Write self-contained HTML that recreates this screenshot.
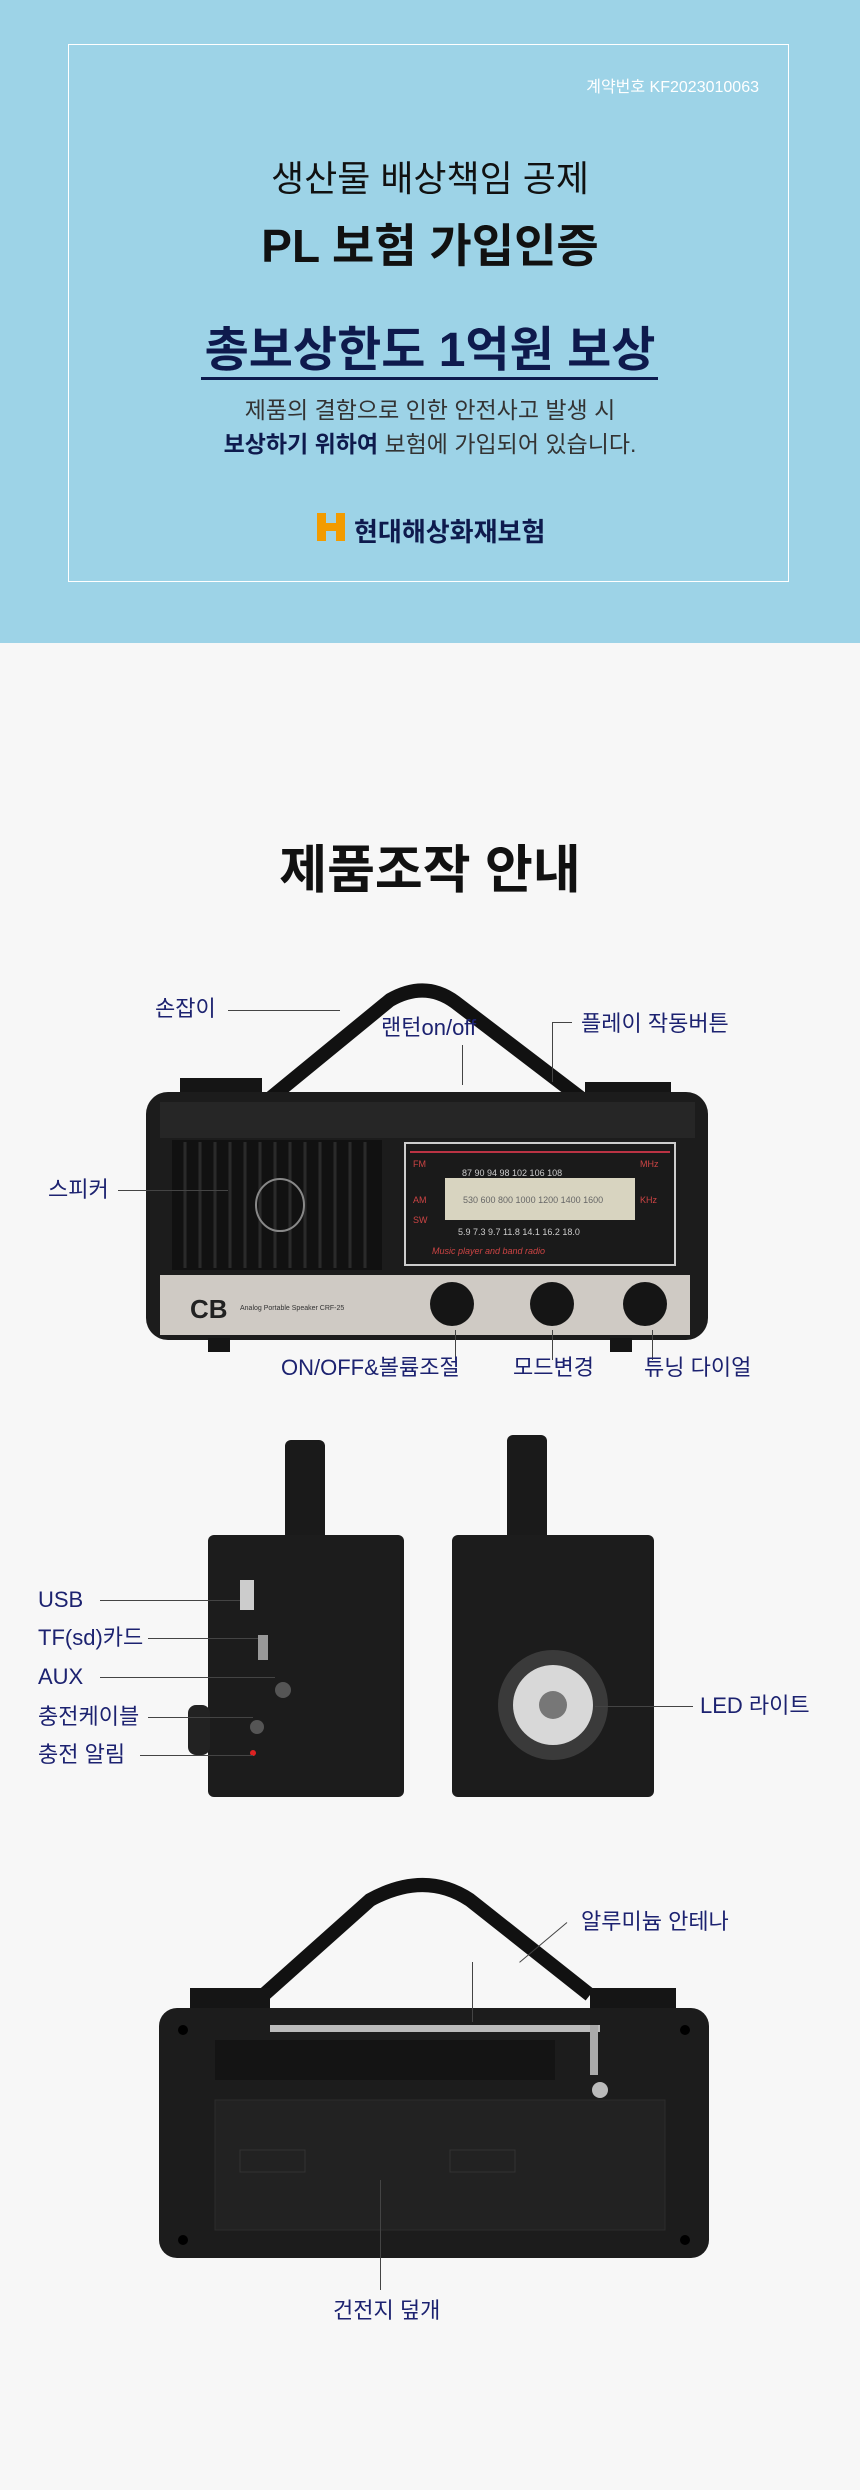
<!DOCTYPE html>
<html><head><meta charset="utf-8"><style>
*{margin:0;padding:0;box-sizing:border-box}
body{width:860px;height:2490px;position:relative;background:#f7f7f7;font-family:"Liberation Sans","Noto Sans CJK KR",sans-serif;overflow:hidden}
.a{position:absolute}
.t{position:absolute;white-space:nowrap}
.lbl{position:absolute;white-space:nowrap;color:#1c2270;font-size:22px;line-height:1}
.ln{position:absolute;background:#444}
</style></head><body>
<div class="a" style="left:0;top:0;width:860px;height:643px;background:#9dd3e7"></div>
<div class="a" style="left:68px;top:44px;width:721px;height:538px;border:1.5px solid #fff"></div>
<div class="t" style="right:101px;top:73px;color:#fff;font-size:16px">계약번호 KF2023010063</div>
<div class="t" style="left:0;width:860px;text-align:center;top:150px;font-size:36px;color:#111">생산물 배상책임 공제</div>
<div class="t" style="left:0;width:860px;text-align:center;top:210px;font-size:46px;font-weight:bold;color:#111">PL 보험 가입인증</div>
<div class="t" style="left:0;width:860px;text-align:center;top:310px;font-size:48px;font-weight:bold;color:#0e1a4d">총보상한도 1억원 보상</div>
<div class="a" style="left:201px;top:377px;width:457px;height:3px;background:#0e1a4d"></div>
<div class="t" style="left:0;width:860px;text-align:center;top:391px;font-size:23px;color:#333">제품의 결함으로 인한 안전사고 발생 시</div>
<div class="t" style="left:0;width:860px;text-align:center;top:425px;font-size:23px;color:#333"><b style="color:#0e1a4d">보상하기 위하여</b> 보험에 가입되어 있습니다.</div>
<div class="a" style="left:317px;top:513px;width:28px;height:28px;background:#f29b00"></div>
<div class="a" style="left:326px;top:513px;width:10px;height:10px;background:#9dd3e7"></div>
<div class="a" style="left:326px;top:531px;width:10px;height:10px;background:#9dd3e7"></div>
<div class="t" style="left:354px;top:512px;font-size:26px;font-weight:bold;color:#0e1a4d">현대해상화재보험</div>

<div class="t" style="left:0;width:860px;text-align:center;top:828px;font-size:52px;font-weight:bold;color:#111">제품조작 안내</div>

<!-- front radio -->
<svg class="a" style="left:0;top:960px" width="860" height="400">
<path d="M268 140 L390 40 Q425 20 455 42 L590 145" stroke="#111" stroke-width="14" fill="none"/>
<rect x="180" y="118" width="82" height="28" fill="#151515"/>
<rect x="585" y="122" width="86" height="26" fill="#151515"/>
<rect x="146" y="132" width="562" height="248" rx="22" fill="#1c1c1c"/>
<rect x="160" y="142" width="535" height="36" fill="#262626"/>
<rect x="172" y="180" width="210" height="130" fill="#111"/>
<g stroke="#2a2a2a" stroke-width="3">
<line x1="185" y1="182" x2="185" y2="308"/><line x1="200" y1="182" x2="200" y2="308"/><line x1="215" y1="182" x2="215" y2="308"/><line x1="230" y1="182" x2="230" y2="308"/><line x1="245" y1="182" x2="245" y2="308"/><line x1="260" y1="182" x2="260" y2="308"/><line x1="275" y1="182" x2="275" y2="308"/><line x1="290" y1="182" x2="290" y2="308"/><line x1="305" y1="182" x2="305" y2="308"/><line x1="320" y1="182" x2="320" y2="308"/><line x1="335" y1="182" x2="335" y2="308"/><line x1="350" y1="182" x2="350" y2="308"/><line x1="365" y1="182" x2="365" y2="308"/></g>
<ellipse cx="280" cy="245" rx="24" ry="26" fill="none" stroke="#888" stroke-width="2"/>
<rect x="405" y="183" width="270" height="122" fill="#1a1a1a" stroke="#ccc" stroke-width="2"/>
<line x1="410" y1="192" x2="670" y2="192" stroke="#b34" stroke-width="2"/>
<rect x="445" y="218" width="190" height="42" fill="#d8d4c0"/>
<g font-size="9" fill="#ccc" font-family="Liberation Sans"><text x="462" y="216">87  90  94  98  102  106  108</text><text x="458" y="275">5.9  7.3  9.7  11.8  14.1  16.2  18.0</text></g>
<g font-size="9" fill="#c44"><text x="413" y="207">FM</text><text x="413" y="243">AM</text><text x="413" y="263">SW</text><text x="640" y="207">MHz</text><text x="640" y="243">KHz</text><text x="432" y="294" font-style="italic">Music player and band radio</text></g>
<text x="463" y="243" font-size="9" fill="#666">530 600 800 1000 1200 1400 1600</text>
<rect x="160" y="315" width="530" height="60" fill="#cfcac4"/>
<text x="190" y="358" font-size="26" font-weight="bold" fill="#222">CB</text>
<text x="240" y="350" font-size="7" fill="#333">Analog Portable Speaker CRF-25</text>
<circle cx="452" cy="344" r="22" fill="#151515"/><circle cx="552" cy="344" r="22" fill="#151515"/><circle cx="645" cy="344" r="22" fill="#151515"/>
<rect x="208" y="378" width="22" height="14" fill="#151515"/><rect x="610" y="378" width="22" height="14" fill="#151515"/>
</svg>
<div class="lbl" style="left:155px;top:998px">손잡이</div><div class="ln" style="left:228px;top:1010px;width:112px;height:1px"></div>
<div class="lbl" style="left:381px;top:1017px">랜턴on/off</div><div class="ln" style="left:462px;top:1045px;width:1px;height:40px"></div>
<div class="lbl" style="left:581px;top:1013px">플레이 작동버튼</div><div class="ln" style="left:552px;top:1022px;width:20px;height:1px"></div><div class="ln" style="left:552px;top:1022px;width:1px;height:60px"></div>
<div class="lbl" style="left:48px;top:1179px">스피커</div><div class="ln" style="left:118px;top:1190px;width:110px;height:1px"></div>
<div class="ln" style="left:455px;top:1330px;width:1px;height:30px"></div><div class="ln" style="left:552px;top:1330px;width:1px;height:30px"></div><div class="ln" style="left:652px;top:1330px;width:1px;height:30px"></div>
<div class="lbl" style="left:281px;top:1357px">ON/OFF&amp;볼륨조절</div>
<div class="lbl" style="left:513px;top:1357px">모드변경</div>
<div class="lbl" style="left:644px;top:1357px">튜닝 다이얼</div>

<!-- side views -->
<svg class="a" style="left:0;top:1430px" width="860" height="380">
<rect x="285" y="10" width="40" height="120" rx="6" fill="#1a1a1a"/>
<rect x="208" y="105" width="196" height="262" rx="6" fill="#1c1c1c"/>
<rect x="240" y="150" width="14" height="30" fill="#ccc"/><rect x="258" y="205" width="10" height="25" fill="#999"/>
<circle cx="283" cy="260" r="8" fill="#555"/><circle cx="257" cy="297" r="7" fill="#555"/><circle cx="253" cy="323" r="3" fill="#d22"/>
<rect x="188" y="275" width="22" height="50" rx="8" fill="#222"/>
<rect x="507" y="5" width="40" height="125" rx="6" fill="#1a1a1a"/>
<rect x="452" y="105" width="202" height="262" rx="6" fill="#1c1c1c"/>
<circle cx="553" cy="275" r="55" fill="#3a3a3a"/><circle cx="553" cy="275" r="40" fill="#d8d8d8"/><circle cx="553" cy="275" r="14" fill="#777"/>
</svg>
<div class="lbl" style="left:38px;top:1589px">USB</div><div class="ln" style="left:100px;top:1600px;width:140px;height:1px"></div>
<div class="lbl" style="left:38px;top:1627px">TF(sd)카드</div><div class="ln" style="left:148px;top:1638px;width:110px;height:1px"></div>
<div class="lbl" style="left:38px;top:1666px">AUX</div><div class="ln" style="left:100px;top:1677px;width:175px;height:1px"></div>
<div class="lbl" style="left:38px;top:1706px">충전케이블</div><div class="ln" style="left:148px;top:1717px;width:105px;height:1px"></div>
<div class="lbl" style="left:38px;top:1744px">충전 알림</div><div class="ln" style="left:140px;top:1755px;width:113px;height:1px"></div>
<div class="lbl" style="left:700px;top:1695px">LED 라이트</div><div class="ln" style="left:595px;top:1706px;width:98px;height:1px"></div>

<!-- back radio -->
<svg class="a" style="left:0;top:1860px" width="860" height="410">
<path d="M258 140 L370 40 Q425 10 470 40 L590 135" stroke="#111" stroke-width="14" fill="none"/>
<rect x="190" y="128" width="80" height="26" fill="#151515"/>
<rect x="590" y="128" width="86" height="26" fill="#151515"/>
<rect x="159" y="148" width="550" height="250" rx="18" fill="#1c1c1c"/>
<rect x="215" y="180" width="340" height="40" fill="#141414"/>
<rect x="270" y="165" width="330" height="7" fill="#bbb"/>
<rect x="590" y="165" width="8" height="50" fill="#aaa"/>
<circle cx="600" cy="230" r="8" fill="#bbb"/>
<rect x="215" y="240" width="450" height="130" fill="#222" stroke="#2c2c2c"/>
<rect x="240" y="290" width="65" height="22" fill="none" stroke="#333"/><rect x="450" y="290" width="65" height="22" fill="none" stroke="#333"/>
<circle cx="183" cy="170" r="5" fill="#000"/><circle cx="685" cy="170" r="5" fill="#000"/><circle cx="183" cy="380" r="5" fill="#000"/><circle cx="685" cy="380" r="5" fill="#000"/>
</svg>
<div class="lbl" style="left:581px;top:1911px">알루미늄 안테나</div><div class="ln" style="left:510px;top:1922px;width:62px;height:1px;transform:rotate(-40deg);transform-origin:right;left:505px"></div><div class="ln" style="left:472px;top:1962px;width:1px;height:60px"></div>
<div class="ln" style="left:380px;top:2180px;width:1px;height:110px"></div>
<div class="lbl" style="left:333px;top:2300px">건전지 덮개</div>
</body></html>
